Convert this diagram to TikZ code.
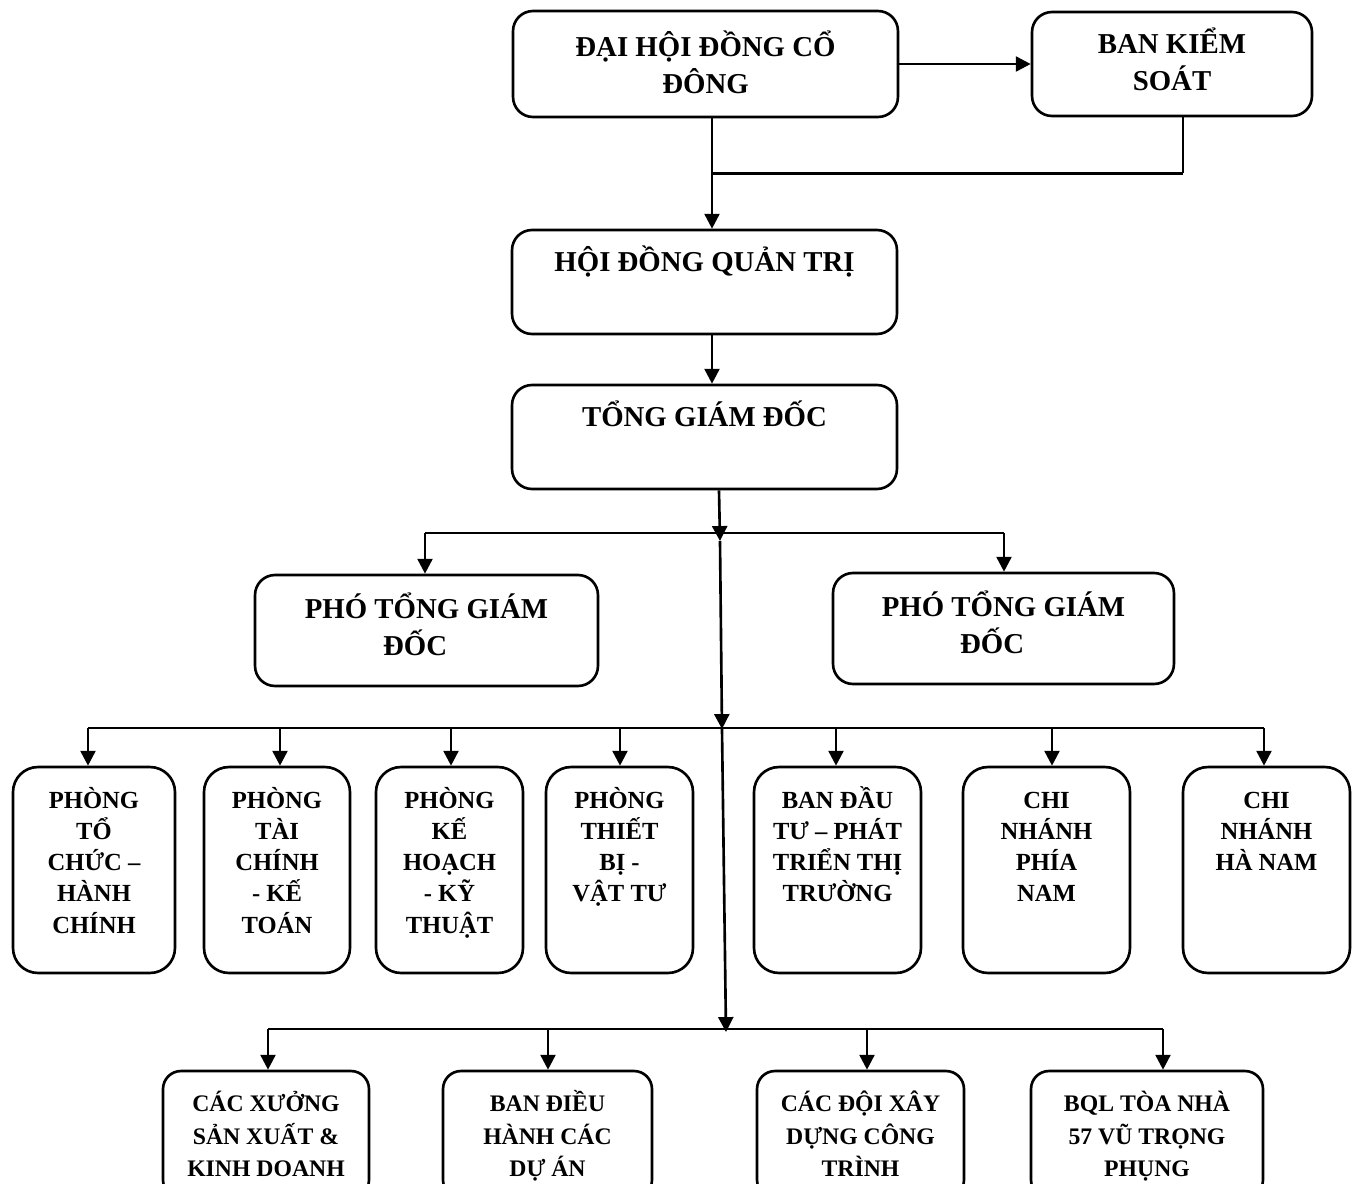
\documentclass[tikz,border=0pt]{standalone}
\usepackage{fontspec}
\setmainfont{Liberation Serif}
\usetikzlibrary{arrows.meta,positioning,calc}
\newcommand{\boxstrut}{\rule{0pt}{1em}}
\tikzset{
  box/.style={draw, line width=1.5pt, rounded corners=0.4cm, inner sep=0pt},
  tallbox/.style={box, rounded corners=0.5cm, minimum height=4.12cm, minimum width=#1},
  lowbox/.style={box, rounded corners=0.36cm, minimum height=2.54cm, minimum width=#1},
  conn/.style={line width=1.5pt},
  arr/.style={conn, -{Triangle[width=8.5pt,length=8.5pt]}},
  tbig/.style={font=\fontsize{16.4}{21.3}\selectfont\bfseries, align=center, inner sep=0pt},
  tmid/.style={font=\fontsize{14}{17.8}\selectfont\bfseries, align=center, inner sep=0pt},
  tlow/.style={font=\fontsize{13.5}{18.4}\selectfont\bfseries, align=center, inner sep=0pt}
}
\begin{document}
\begin{tikzpicture}[x=0.02cm, y=-0.02cm]
    \useasboundingbox (0,0) rectangle (1357,1184);
    \clip (0,0) rectangle (1357,1184);

    % Top level
    \node[box, minimum width=7.7cm, minimum height=2.12cm] (dhdcd) at (705.5,64) {};
    \node[tbig, below=0.35cm of dhdcd.north] (dhdcd-t) {\boxstrut ĐẠI HỘI ĐỒNG CỔ\\ĐÔNG};
    \node[box, minimum width=5.6cm, minimum height=2.08cm] (bks) at (1172,64) {};
    \node[tbig, below=0.27cm of bks.north] (bks-t) {\boxstrut BAN KIỂM\\SOÁT};
    \node[box, minimum width=7.7cm, minimum height=2.08cm] (hdqt) at (704.5,282) {};
    \node[tbig, below=0.27cm of hdqt.north] (hdqt-t) {\boxstrut HỘI ĐỒNG QUẢN TRỊ};
    \node[box, minimum width=7.7cm, minimum height=2.08cm] (tgd) at (704.5,437) {};
    \node[tbig, below=0.27cm of tgd.north] (tgd-t) {\boxstrut TỔNG GIÁM ĐỐC};

    % Deputies
    \node[box, minimum width=6.86cm, minimum height=2.22cm] (ptgd1) at (426.5,630.5) {};
    \node[tbig, below=0.31cm of ptgd1.north] (ptgd1-t) {\boxstrut PHÓ TỔNG GIÁM\\ĐỐC\hspace*{13pt}};
    \node[box, minimum width=6.82cm, minimum height=2.22cm] (ptgd2) at (1003.5,628.5) {};
    \node[tbig, below=0.31cm of ptgd2.north] (ptgd2-t) {\boxstrut PHÓ TỔNG GIÁM\\ĐỐC\hspace*{13pt}};

    % Departments
    \node[tallbox=3.24cm] (p1) at (94,870) {};
    \node[tallbox=2.92cm] (p2) at (277,870) {};
    \node[tallbox=2.94cm] (p3) at (449.5,870) {};
    \node[tallbox=2.94cm] (p4) at (619.5,870) {};
    \node[tallbox=3.34cm] (p5) at (837.5,870) {};
    \node[tallbox=3.34cm] (p6) at (1046.5,870) {};
    \node[tallbox=3.34cm] (p7) at (1266.5,870) {};
    \node[tmid, below=0.35cm of p1.north] (p1-t) {\boxstrut PHÒNG\\TỔ\\CHỨC –\\HÀNH\\CHÍNH};
    \node[tmid, below=0.35cm of p2.north] (p2-t) {\boxstrut PHÒNG\\TÀI\\CHÍNH\\- KẾ\\TOÁN};
    \node[tmid, below=0.35cm of p3.north] (p3-t) {\boxstrut PHÒNG\\KẾ\\HOẠCH\\- KỸ\\THUẬT};
    \node[tmid, below=0.35cm of p4.north] (p4-t) {\boxstrut PHÒNG\\THIẾT\\BỊ -\\VẬT TƯ};
    \node[tmid, below=0.35cm of p5.north] (p5-t) {\boxstrut BAN ĐẦU\\TƯ – PHÁT\\TRIỂN THỊ\\TRƯỜNG};
    \node[tmid, below=0.35cm of p6.north] (p6-t) {\boxstrut CHI\\NHÁNH\\PHÍA\\NAM};
    \node[tmid, below=0.35cm of p7.north] (p7-t) {\boxstrut CHI\\NHÁNH\\HÀ NAM};

    % Units
    \node[lowbox=4.12cm] (b1) at (266,1134.5) {};
    \node[lowbox=4.18cm] (b2) at (547.5,1134.5) {};
    \node[lowbox=4.14cm] (b3) at (860.5,1134.5) {};
    \node[lowbox=4.64cm] (b4) at (1147,1134.5) {};
    \node[tlow, below=0.36cm of b1.north] (b1-t) {\boxstrut CÁC XƯỞNG\\SẢN XUẤT \&\\KINH DOANH};
    \node[tlow, below=0.36cm of b2.north] (b2-t) {\boxstrut BAN ĐIỀU\\HÀNH CÁC\\DỰ ÁN};
    \node[tlow, below=0.36cm of b3.north] (b3-t) {\boxstrut CÁC ĐỘI XÂY\\DỰNG CÔNG\\TRÌNH};
    \node[tlow, below=0.36cm of b4.north] (b4-t) {\boxstrut BQL TÒA NHÀ\\57 VŨ TRỌNG\\PHỤNG};

    % Upper connectors
    \draw[arr] (dhdcd.east) -- (bks.west);
    \draw[arr] ($(dhdcd.south)+(6.5,0)$) -- ($(hdqt.north)+(7.5,0)$);
    \coordinate (bksout) at ($(bks.south)+(11,0)$);
    \coordinate (j0) at ($(dhdcd.south)+(6.5,55)$);
    \draw[line width=0.7pt] (bksout) -- (bksout |- j0);
    \draw[conn] (bksout |- j0) -- (j0);
    \draw[arr] ($(hdqt.south)+(7.5,0)$) -- ($(tgd.north)+(7.5,0)$);

    % Spine with buses
    \coordinate (s0) at ($(tgd.south)+(14.5,0)$);
    \coordinate (s1) at (720,541);
    \coordinate (s2) at (722,729);
    \coordinate (s3) at (726,1032);
    \draw[arr] (s0) -- (s1);
    \draw[arr] (s1) -- (s2);
    \draw[arr] (s2) -- (s3);
    \coordinate (bus1) at (0,533);
    \coordinate (bus2) at (0,728);
    \coordinate (bus3) at (0,1029);

    \foreach \n/\dx in {ptgd1/-1.5,ptgd2/0.5} {
        \coordinate (\n-in) at ($(\n.north)+(\dx,0)$);
        \draw[arr] (\n-in |- bus1) -- (\n-in);
    }
    \draw[conn] (ptgd1-in |- bus1) -- (ptgd2-in |- bus1);

    \foreach \n/\dx in {p1/-6,p2/3,p3/1.5,p4/0.5,p5/-1.5,p6/5.5,p7/-2.5} {
        \coordinate (\n-in) at ($(\n.north)+(\dx,0)$);
        \draw[arr] (\n-in |- bus2) -- (\n-in);
    }
    \draw[conn] (p1-in |- bus2) -- (p7-in |- bus2);

    \foreach \n/\dx in {b1/2,b2/0.5,b3/6.5,b4/16} {
        \coordinate (\n-in) at ($(\n.north)+(\dx,0)$);
        \draw[arr] (\n-in |- bus3) -- (\n-in);
    }
    \draw[conn] (b1-in |- bus3) -- (b4-in |- bus3);

\end{tikzpicture}
\end{document}
